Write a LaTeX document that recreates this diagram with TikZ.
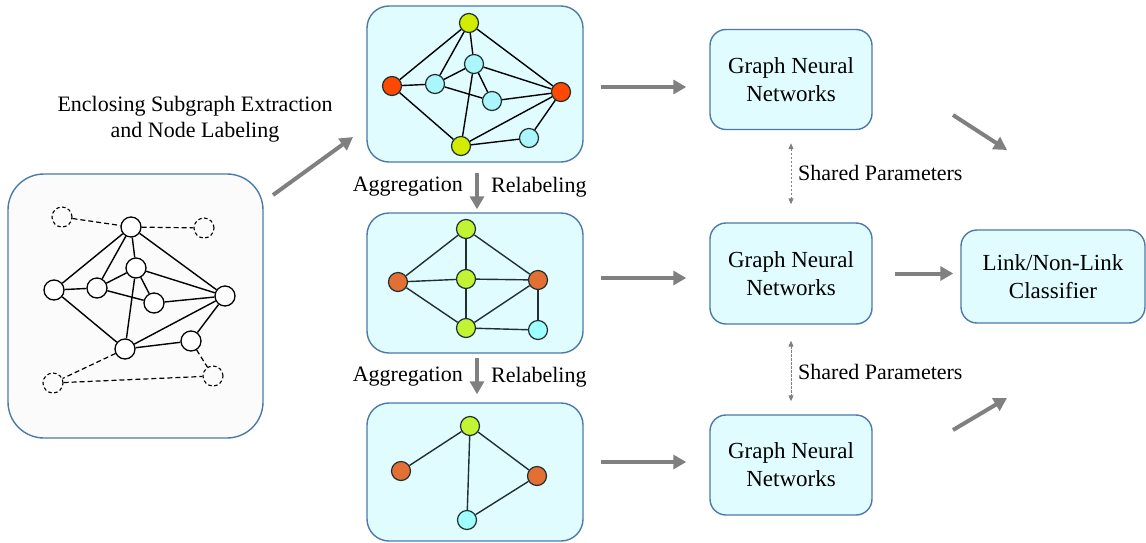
\documentclass[tikz,border=0pt]{standalone}
\usepackage{fontspec}
\setmainfont{Liberation Serif}
\usetikzlibrary{arrows.meta,calc}
\definecolor{boxfill}{RGB}{224,252,255}
\definecolor{boxline}{RGB}{76,122,168}
\definecolor{leftfill}{RGB}{251,251,251}
\definecolor{arrowgray}{RGB}{128,128,128}
\definecolor{nred}{RGB}{255,72,0}
\definecolor{nyel}{RGB}{210,236,0}
\definecolor{ncya}{RGB}{170,246,250}
\definecolor{ngrn}{RGB}{194,244,52}
\definecolor{nora}{RGB}{226,112,52}
\definecolor{ncyb}{RGB}{160,255,255}
\definecolor{edgedark}{RGB}{32,48,48}
\tikzset{
  panel/.style={draw=boxline, line width=1.4pt, fill=boxfill, rounded corners=22pt, inner sep=0pt},
  gnnbox/.style={draw=boxline, line width=1.4pt, fill=boxfill, rounded corners=16pt, align=center,
    font=\fontsize{23}{28}\selectfont, inner sep=0pt},
  lbl/.style={font=\fontsize{22}{26}\selectfont, inner sep=0pt},
  wnode/.style={circle, draw=black, fill=white, line width=1.3pt, minimum size=20pt, inner sep=0pt},
  dnode/.style={circle, draw=black, dashed, dash pattern=on 3.5pt off 2.5pt, line width=1.1pt, minimum size=20pt, inner sep=0pt},
  cnode/.style={circle, draw=edgedark, line width=1.2pt, minimum size=19pt, inner sep=0pt},
  gedge/.style={draw=black, line width=1.4pt},
  dedge/.style={draw=black, line width=1.2pt, dash pattern=on 5pt off 3pt},
  cedge/.style={draw=edgedark, line width=1.4pt},
  bigarrow/.style={draw=arrowgray, line width=4pt, -{Triangle[length=13pt,width=14pt]}},
  sharedarrow/.style={draw=arrowgray, line width=1pt, dash pattern=on 2.5pt off 1.5pt,
    {Triangle[length=6pt,width=5pt]}-{Triangle[length=6pt,width=5pt]}}
}
\begin{document}
\begin{tikzpicture}[x=1pt,y=-1pt]
\useasboundingbox (0,0) rectangle (1146,542);

% panels
\node[panel, fill=leftfill, rounded corners=36pt, minimum width=255pt, minimum height=264pt] (lb) at (135.5,306) {};
\node[panel, minimum width=216pt, minimum height=156pt] (tb) at (475,84) {};
\node[panel, minimum width=216pt, minimum height=140pt] (mb) at (475,283) {};
\node[panel, minimum width=216pt, minimum height=138pt] (bb) at (475,472) {};

\node[gnnbox, minimum width=162pt, minimum height=100pt] (g1) at (791,79.5) {Graph Neural\\Networks};
\node[gnnbox, minimum width=162pt, minimum height=101pt] (g2) at (791,273.5) {Graph Neural\\Networks};
\node[gnnbox, minimum width=162pt, minimum height=100pt] (g3) at (791,465) {Graph Neural\\Networks};
\node[gnnbox, minimum width=184pt, minimum height=93pt] (cl) at (1053,276.5) {Link/Non-Link\\Classifier};

% labels
\node[lbl, align=center] (enc) at (195,119) {Enclosing Subgraph Extraction\\and Node Labeling};
\node[lbl, anchor=east] (ag1) at (463,187) {Aggregation};
\node[lbl, anchor=west] (re1) at (491,187) {Relabeling};
\node[lbl, anchor=east] (ag2) at (463,377) {Aggregation};
\node[lbl, anchor=west] (re2) at (491,377) {Relabeling};
\node[lbl, anchor=west] (sp1) at (798,173) {Shared Parameters};
\node[lbl, anchor=west] (sp2) at (798,372) {Shared Parameters};

% left graph
\node[dnode] (ltl) at (62,217) {};
\node[wnode] (lt) at (131,227) {};
\node[dnode] (ltr) at (204,228) {};
\node[wnode] (lcu) at (136,268) {};
\node[wnode] (ll) at (54,290) {};
\node[wnode] (lml) at (97,288) {};
\node[wnode] (lcr) at (154,303) {};
\node[wnode] (lr) at (225,296) {};
\node[wnode] (lbn) at (125,349) {};
\node[wnode] (lbr) at (191,341) {};
\node[dnode] (lbld) at (53,383) {};
\node[dnode] (lbrd) at (213,376) {};
\foreach \a/\b in {lt/ll, lt/lml, lt/lcu, lt/lr, ll/lml, ll/lbn, lml/lcu, lml/lcr, lcu/lcr, lcu/lr, lcu/lbn, lcr/lr, lbn/lr, lbn/lbr, lbr/lr}
  \draw[gedge] (\a) -- (\b);
\foreach \a/\b in {ltl/lt, lt/ltr, lbn/lbld, lbld/lbrd, lbr/lbrd}
  \draw[dedge] (\a) -- (\b);

% top graph
\node[cnode, fill=nyel] (tt) at (469,23) {};
\node[cnode, fill=ncya] (tcu) at (474,64) {};
\node[cnode, fill=nred] (tl) at (392,86) {};
\node[cnode, fill=ncya] (tml) at (435,84) {};
\node[cnode, fill=ncya] (tcr) at (492,101) {};
\node[cnode, fill=nred] (tr) at (561,92) {};
\node[cnode, fill=nyel] (tbn) at (461,146) {};
\node[cnode, fill=ncya] (tbr) at (529,138) {};
\foreach \a/\b in {tt/tl, tt/tml, tt/tcu, tt/tr, tl/tml, tl/tbn, tml/tcu, tml/tcr, tcu/tcr, tcu/tr, tcu/tbn, tcr/tr, tbn/tr, tbn/tbr, tbr/tr}
  \draw[cedge, draw=black] (\a) -- (\b);

% middle graph
\node[cnode, fill=ngrn] (mt) at (466,229) {};
\node[cnode, fill=nora] (ml) at (398,282) {};
\node[cnode, fill=ngrn] (mc) at (466,279) {};
\node[cnode, fill=nora] (mr) at (538,280) {};
\node[cnode, fill=ngrn] (mbn) at (466,328) {};
\node[cnode, fill=ncyb] (mbr) at (538,330) {};
\foreach \a/\b in {mt/ml, mt/mc, mt/mr, ml/mc, ml/mbn, mc/mr, mc/mbn, mbn/mr, mbn/mbr, mr/mbr}
  \draw[cedge] (\a) -- (\b);

% bottom graph
\node[cnode, fill=ngrn] (bt) at (470,426) {};
\node[cnode, fill=nora] (bl) at (401,471) {};
\node[cnode, fill=nora] (br) at (537,476) {};
\node[cnode, fill=ncyb] (bbn) at (467,520) {};
\foreach \a/\b in {bt/bl, bt/bbn, bt/br, br/bbn}
  \draw[cedge] (\a) -- (\b);

% big arrows
\coordinate (d0s) at (273,195);
\coordinate (d0e) at (353,137);
\draw[bigarrow] (d0s) -- (d0e);
\draw[bigarrow] ([xshift=17pt,yshift=-3pt]tb.east) -- ([xshift=-23pt,yshift=-3pt]tb.east -| g1.west);
\draw[bigarrow] ([xshift=17pt,yshift=5pt]mb.east) -- ([xshift=-23pt,yshift=5pt]mb.east -| g2.west);
\draw[bigarrow] ([xshift=17pt,yshift=10pt]bb.east) -- ([xshift=-23pt,yshift=10pt]bb.east -| g3.west);
\draw[bigarrow] ([xshift=22pt]g2.east) -- ([xshift=-7pt]g2.east -| cl.west);
\coordinate (d1s) at (953,115);
\coordinate (d1e) at (1007,150);
\draw[bigarrow] (d1s) -- (d1e);
\coordinate (d2s) at (953,430);
\coordinate (d2e) at (1007,398);
\draw[bigarrow] (d2s) -- (d2e);
\draw[bigarrow] ([xshift=2pt,yshift=-10pt]tb.south) -- ([xshift=2pt,yshift=3pt]mb.north);
\draw[bigarrow] ([xshift=2pt,yshift=-4pt]mb.south) -- ([xshift=2pt,yshift=8pt]bb.north);

% shared parameter arrows
\draw[sharedarrow] ([yshift=-13pt]g1.south) -- ([yshift=18pt]g2.north);
\draw[sharedarrow] ([yshift=-16pt]g2.south) -- ([yshift=13pt]g3.north);
\end{tikzpicture}
\end{document}
